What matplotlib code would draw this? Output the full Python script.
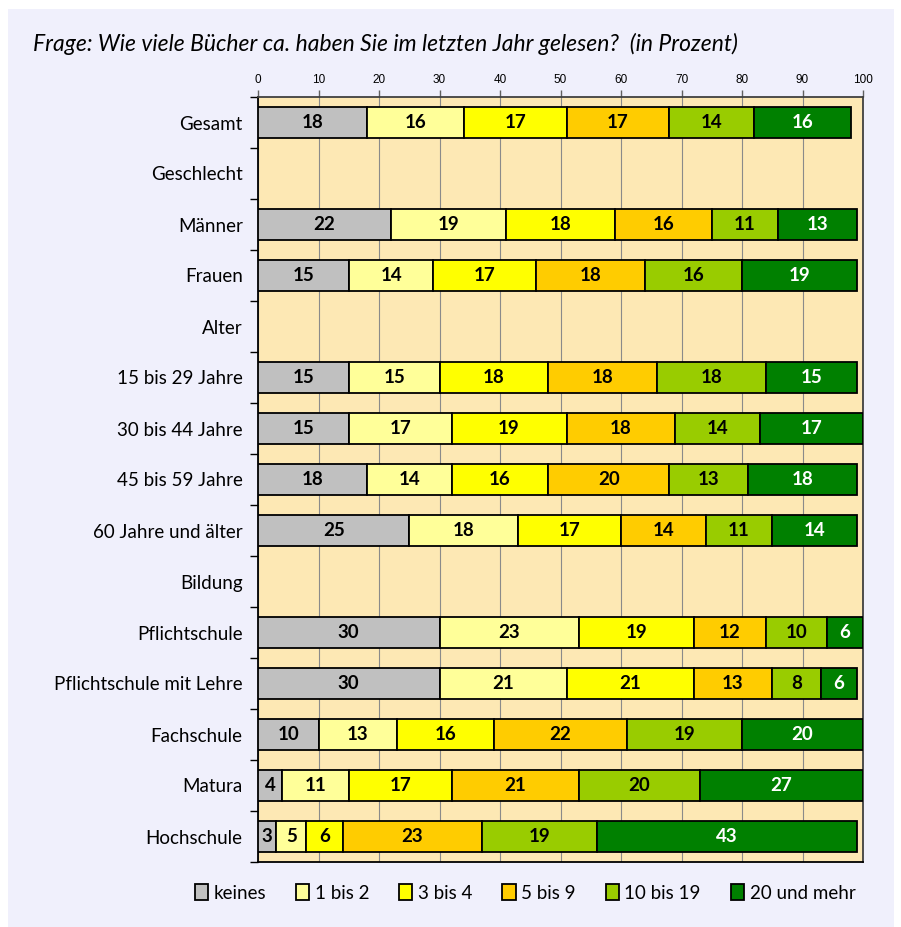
import matplotlib.pyplot as plt
from matplotlib.patches import Rectangle
import numpy as np

plt.rcParams['font.family'] = ['Lato', 'DejaVu Sans']

# categories (top to bottom), empty rows are group headers
categories = ["Gesamt", "Geschlecht", "Männer", "Frauen", "Alter",
              "15 bis 29 Jahre", "30 bis 44 Jahre", "45 bis 59 Jahre",
              "60 Jahre und älter", "Bildung", "Pflichtschule",
              "Pflichtschule mit Lehre", "Fachschule", "Matura", "Hochschule"]
series_names = ["keines", "1 bis 2", "3 bis 4", "5 bis 9", "10 bis 19", "20 und mehr"]

keines      = [18, None, 22, 15, None, 15, 15, 18, 25, None, 30, 30, 10, 4, 3]
bis_2       = [16, None, 19, 14, None, 15, 17, 14, 18, None, 23, 21, 13, 11, 5]
bis_4       = [17, None, 18, 17, None, 18, 19, 16, 17, None, 19, 21, 16, 17, 6]
bis_9       = [17, None, 16, 18, None, 18, 18, 20, 14, None, 12, 13, 22, 21, 23]
bis_19      = [14, None, 11, 16, None, 18, 14, 13, 11, None, 10, 8, 19, 20, 19]
und_mehr    = [16, None, 13, 19, None, 15, 17, 18, 14, None, 6, 6, 20, 27, 43]

series = [keines, bis_2, bis_4, bis_9, bis_19, und_mehr]
colors = ["#c0c0c0", "#ffff99", "#ffff00", "#ffcc00", "#99cc00", "#008000"]
text_colors = ["black", "black", "black", "black", "black", "white"]

fig = plt.figure(figsize=(9.01, 9.27), dpi=100, facecolor="white")
fig.patches.append(Rectangle((8 / 901, 0), 886 / 901, 918 / 927,
                             transform=fig.transFigure, facecolor="#f0f0fc",
                             edgecolor="none", zorder=-10))

ax = fig.add_axes([258 / 901, 65 / 927, 605 / 901, 765 / 927])
ax.set_facecolor("#fde8b4")

y = np.arange(len(categories))
left = np.zeros(len(categories))
for vals, col, tcol, name in zip(series, colors, text_colors, series_names):
    v = np.array([0 if x is None else x for x in vals], dtype=float)
    mask = np.array([x is not None for x in vals])
    ax.barh(y[mask], v[mask], left=left[mask], height=0.6, color=col,
            edgecolor="black", linewidth=1.3, label=name, zorder=3)
    for yy, l, w in zip(y[mask], left[mask], v[mask]):
        ax.text(l + w / 2, yy, f"{int(w)}", ha="center", va="center",
                fontsize=13.5, fontweight="bold", color=tcol, zorder=4)
    left = left + v

ax.set_xlim(0, 100)
ax.set_ylim(len(categories) - 0.5, -0.5)
ax.xaxis.tick_top()
ax.set_xticks(np.arange(0, 101, 10))
ax.set_xticklabels([str(t) for t in range(0, 101, 10)],
                   fontsize=8.5, family=["Liberation Sans"])
ax.tick_params(axis="x", length=5, width=1, color="#606060", pad=3)
ax.grid(axis="x", color="#8a8a8a", linewidth=0.8, zorder=1)

ax.set_yticks(y)
ax.set_yticklabels(categories, fontsize=13.5)
ax.tick_params(axis="y", length=0, pad=11)
ax.set_yticks(np.arange(-0.5, len(categories), 1), minor=True)
ax.tick_params(axis="y", which="minor", length=6, width=1, color="black")

for s in ["left", "bottom"]:
    ax.spines[s].set_color("black")
    ax.spines[s].set_linewidth(1.3)
for s in ["top", "right"]:
    ax.spines[s].set_color("#404040")
    ax.spines[s].set_linewidth(1.3)

fig.text(33 / 901, 1 - 44 / 927, "Frage: Wie viele Bücher ca. haben Sie im letzten Jahr gelesen?  (in Prozent)",
         fontsize=16.5, style="italic", ha="left", va="center")

fig.legend(loc="center", bbox_to_anchor=(525 / 901, 1 - 893 / 927), ncol=6,
           frameon=False, fontsize=13.5, handlelength=0.7, handleheight=0.9,
           handletextpad=0.3, columnspacing=1.6)

fig.savefig("out.png", dpi=100, facecolor="white")
